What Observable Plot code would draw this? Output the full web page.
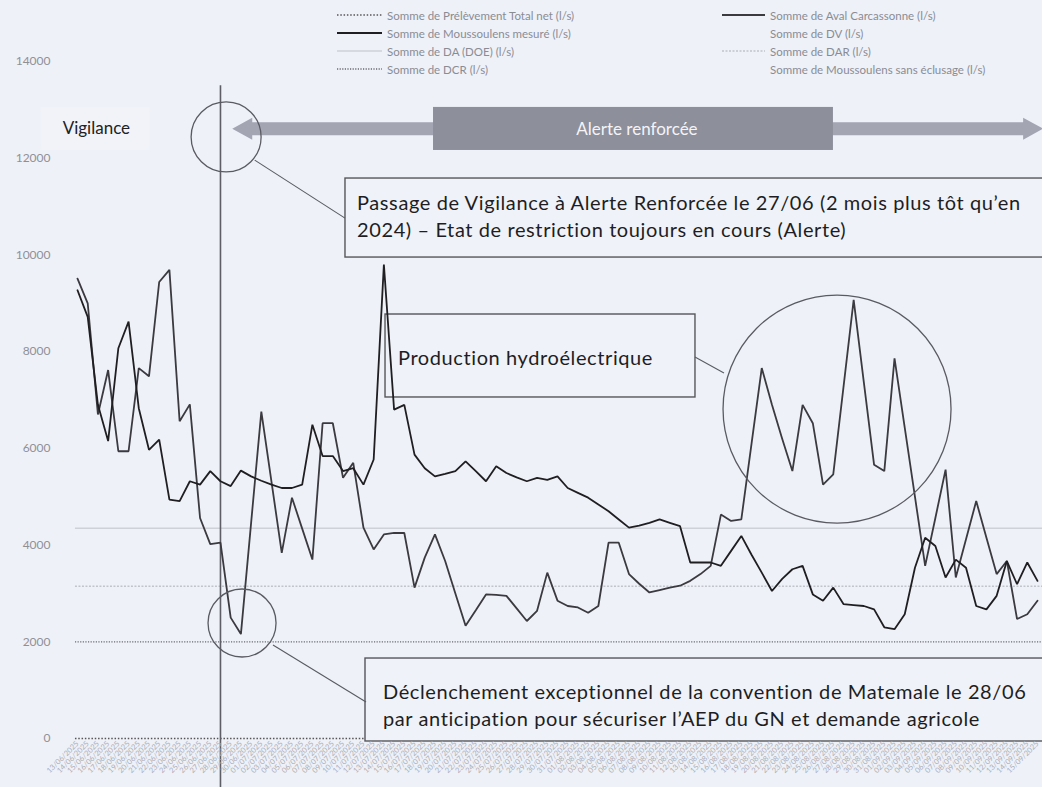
<!DOCTYPE html>
<html><head><meta charset="utf-8">
<script src="https://cdn.jsdelivr.net/npm/d3@7"></script>
<script src="https://cdn.jsdelivr.net/npm/@observablehq/plot@0.6"></script>
<style>
html,body{margin:0;padding:0;background:#eef1f8;}
#wrap{position:relative;width:1042px;height:787px;overflow:hidden;background:#eef1f8;}
#legend{position:absolute;left:0;top:0;width:1042px;height:80px;font-family:Lato,"Open Sans",sans-serif;font-size:11.5px;color:#8a8c94;}
.li{position:absolute;display:flex;align-items:center;white-space:nowrap;height:14px;}
.li svg{margin-right:5px;}
#chart{position:absolute;left:0;top:0;}
</style></head><body><div id="wrap"><div id="chart"></div><div id="legend"></div></div>
<script>
// ---- data ----
const dates = [
"13/06/2025","14/06/2025","15/06/2025","16/06/2025","17/06/2025","18/06/2025","19/06/2025","20/06/2025","21/06/2025","22/06/2025",
"23/06/2025","24/06/2025","25/06/2025","26/06/2025","27/06/2025","28/06/2025","29/06/2025","30/06/2025",
"01/07/2025","02/07/2025","03/07/2025","04/07/2025","05/07/2025","06/07/2025","07/07/2025","08/07/2025","09/07/2025","10/07/2025",
"11/07/2025","12/07/2025","13/07/2025","14/07/2025","15/07/2025","16/07/2025","17/07/2025","18/07/2025","19/07/2025","20/07/2025",
"21/07/2025","22/07/2025","23/07/2025","24/07/2025","25/07/2025","26/07/2025","27/07/2025","28/07/2025","29/07/2025","30/07/2025","31/07/2025",
"01/08/2025","02/08/2025","03/08/2025","04/08/2025","05/08/2025","06/08/2025","07/08/2025","08/08/2025","09/08/2025","10/08/2025",
"11/08/2025","12/08/2025","13/08/2025","14/08/2025","15/08/2025","16/08/2025","17/08/2025","18/08/2025","19/08/2025","20/08/2025",
"21/08/2025","22/08/2025","23/08/2025","24/08/2025","25/08/2025","26/08/2025","27/08/2025","28/08/2025","29/08/2025","30/08/2025","31/08/2025",
"01/09/2025","02/09/2025","03/09/2025","04/09/2025","05/09/2025","06/09/2025","07/09/2025","08/09/2025","09/09/2025","10/09/2025",
"11/09/2025","12/09/2025","13/09/2025","14/09/2025","15/09/2025"];

const moussoulensMesure = [
9270,8720,6900,6150,8070,8620,6830,5970,6180,4940,
4910,5320,5250,5530,5320,5220,5540,5420,5330,5250,
5180,5180,5250,6490,5840,5840,5530,5590,5250,5770,
9800,6800,6900,5870,5590,5420,5470,5530,5730,5530,
5320,5630,5490,5400,5320,5390,5350,5420,5180,5080,
4980,4840,4700,4530,4360,4400,4460,4530,4460,4390,
3640,3640,3640,3570,3880,4190,3800,3430,3050,3300,
3500,3570,2980,2850,3120,2780,2760,2740,2670,2300,
2260,2570,3530,4150,3980,3330,3700,3530,2740,2670,
2950,3670,3190,3640,3260];

const avalCarcassonne = [
9510,9000,6700,7620,5940,5940,7660,7490,9440,9690,
6560,6910,4560,4020,4050,2500,2160,4460,6760,5300,
3840,4980,4340,3700,6520,6520,5390,5700,4360,3910,
4220,4250,4250,3120,3740,4220,3670,3000,2330,2650,
2980,2970,2950,2690,2430,2640,3430,2850,2740,2710,
2600,2740,4050,4050,3400,3200,3020,3070,3120,3160,
3260,3400,3570,4630,4500,4530,6100,7660,6900,6200,
5530,6900,6520,5250,5460,7260,9070,7360,5660,5530,
7860,6430,5000,3570,4560,5560,3330,4120,4910,4150,
3400,3670,2470,2570,2850];

const thresholdNames = ["Somme de DA (DOE) (l/s)","Somme de DAR (l/s)","Somme de DCR (l/s)","Somme de Prélèvement Total net (l/s)"];
const thresholdValues = [4350, 3150, 2000, 0];
const yTicks = [0,2000,4000,6000,8000,10000,12000,14000];
const alertDate = "27/06/2025";

const legendLeft = ["Somme de Prélèvement Total net (l/s)","Somme de Moussoulens mesuré (l/s)","Somme de DA (DOE) (l/s)","Somme de DCR (l/s)"];
const legendRight = ["Somme de Aval Carcassonne (l/s)","Somme de DV (l/s)","Somme de DAR (l/s)","Somme de Moussoulens sans éclusage (l/s)"];

// ---- styles ----
const sty = {
  "Somme de Prélèvement Total net (l/s)": {stroke:"#555", width:1.5, dash:"1.5,1.8"},
  "Somme de Moussoulens mesuré (l/s)": {stroke:"#1f1f22", width:1.9, dash:null},
  "Somme de DA (DOE) (l/s)": {stroke:"#cfd1d8", width:1.5, dash:null},
  "Somme de DCR (l/s)": {stroke:"#6a6a70", width:1.3, dash:"1.2,1.4"},
  "Somme de Aval Carcassonne (l/s)": {stroke:"#3a3a40", width:1.9, dash:null},
  "Somme de DV (l/s)": {stroke:"none", width:1, dash:null},
  "Somme de DAR (l/s)": {stroke:"#c2c4cc", width:1.5, dash:"2,1.5"},
  "Somme de Moussoulens sans éclusage (l/s)": {stroke:"none", width:1, dash:null}
};

// annotation anchors, in data units (x = day index, y = l/s)
const notes = {
  vigilanceBox:{x1:-3.6,x2:7.1,y1:13050,y2:12160},
  vigilance:{x:1.9,y:12620,text:"Vigilance"},
  arrow:{x1:15.2,x2:94.6,y:12600},
  alerte:{x1:34.86,x2:74.02,y1:13050,y2:12160,text:"Alerte renforcée"},
  circle1:{x:14.6,y:12430,r:35},
  link1:{x1:17.4,y1:11950,x2:26.24,y2:10750},
  box1:{x1:26.24,x2:96,y1:11580,y2:9946,tx:27.42,lines:[
    {y:11084,t:"Passage de Vigilance à Alerte Renforcée le 27/06 (2 mois plus tôt qu’en"},
    {y:10526,t:"2024) – Etat de restriction toujours en cours (Alerte)"}]},
  box2:{x1:30.16,x2:60.51,y1:8768,y2:7052,tx:31.43,lines:[{y:7879,t:"Production hydroélectrique"}]},
  link2:{x1:60.51,y1:7879,x2:63.35,y2:7548},
  circle2:{x:74.42,y:6803,r:114},
  circle3:{x:16.16,y:2378,r:34},
  link3:{x1:19.19,y1:1923,x2:28.3,y2:744},
  box3:{x1:28.2,x2:96,y1:1654,y2:-62,tx:29.96,lines:[
    {y:972,t:"Déclenchement exceptionnel de la convention de Matemale le 28/06"},
    {y:414,t:"par anticipation pour sécuriser l’AEP du GN et demande agricole"}]}
};

const FONT = "Lato, 'Open Sans', sans-serif";

function boxesMark(index, scales) {
  const x = scales.x, y = scales.y;
  const g = d3.create("svg:g");
  const vb = notes.vigilanceBox;
  g.append("rect").attr("x", x(vb.x1)).attr("y", y(vb.y1)).attr("width", x(vb.x2)-x(vb.x1)).attr("height", y(vb.y2)-y(vb.y1))
    .attr("fill", "#f1f3f9");
  g.append("text").attr("x", x(notes.vigilance.x)).attr("y", y(notes.vigilance.y)).attr("text-anchor","middle")
    .attr("dominant-baseline","central").attr("font-family",FONT).attr("font-size",17).attr("fill","#222").text(notes.vigilance.text);
  // double arrow
  const a = notes.arrow, ax1 = x(a.x1), ax2 = x(a.x2), ay = y(a.y), hl = 20, hh = 11, sh = 6.5;
  const pts = [[ax1,ay],[ax1+hl,ay-hh],[ax1+hl,ay-sh],[ax2-hl,ay-sh],[ax2-hl,ay-hh],[ax2,ay],[ax2-hl,ay+hh],[ax2-hl,ay+sh],[ax1+hl,ay+sh],[ax1+hl,ay+hh]];
  g.append("polygon").attr("points", pts.map(p=>p.join(",")).join(" ")).attr("fill","#a3a5b2");
  const al = notes.alerte;
  g.append("rect").attr("x", x(al.x1)).attr("y", y(al.y1)).attr("width", x(al.x2)-x(al.x1)).attr("height", y(al.y2)-y(al.y1))
    .attr("fill","#8d8f9b");
  g.append("text").attr("x", (x(al.x1)+x(al.x2))/2 + 4).attr("y", (y(al.y1)+y(al.y2))/2).attr("text-anchor","middle")
    .attr("dominant-baseline","central").attr("font-family",FONT).attr("font-size",17).attr("fill","#f4f4f8").text(al.text);
  for (const b of [notes.box1, notes.box2, notes.box3]) {
    g.append("rect").attr("x", x(b.x1)).attr("y", y(b.y1)).attr("width", x(b.x2)-x(b.x1)).attr("height", y(b.y2)-y(b.y1))
      .attr("fill","#eff2f9").attr("stroke","#55565c").attr("stroke-width",1.4);
    for (const l of b.lines) {
      g.append("text").attr("x", x(b.tx)).attr("y", y(l.y)).attr("dominant-baseline","central").attr("text-anchor","start")
        .attr("font-family",FONT).attr("font-size",20).attr("letter-spacing","0.6px").attr("fill","#1e1e22").text(l.t);
    }
  }
  return g.node();
}
function circlesMark(index, scales) {
  const x = scales.x, y = scales.y;
  const g = d3.create("svg:g").attr("fill","none").attr("stroke","#5a5b62");
  for (const c of [notes.circle1, notes.circle2, notes.circle3]) {
    g.append("circle").attr("cx", x(c.x)).attr("cy", y(c.y)).attr("r", c.r).attr("stroke-width",1.3);
  }
  for (const l of [notes.link1, notes.link2, notes.link3]) {
    g.append("line").attr("x1", x(l.x1)).attr("y1", y(l.y1)).attr("x2", x(l.x2)).attr("y2", y(l.y2)).attr("stroke-width",1.1);
  }
  return g.node();
}

const lastIdx = dates.length - 1;
const alertIdx = dates.indexOf(alertDate);
const thresholds = thresholdNames.map((n,i)=>({name:n, value:thresholdValues[i]}));

const marks = [
  ...thresholds.map(t => Plot.ruleY([t], {y:"value", x1: () => -0.2, x2: () => lastIdx + 0.6,
      stroke: sty[t.name].stroke, strokeWidth: sty[t.name].width, strokeDasharray: sty[t.name].dash})),
  boxesMark,
  Plot.ruleX([alertIdx], {x: d => d, y1: () => 13500, y2: () => -1100, stroke:"#5d5e66", strokeWidth:1.6}),
  Plot.lineY(avalCarcassonne, {stroke: sty["Somme de Aval Carcassonne (l/s)"].stroke, strokeWidth: 1.8, strokeLinejoin:"miter"}),
  Plot.lineY(moussoulensMesure, {stroke: sty["Somme de Moussoulens mesuré (l/s)"].stroke, strokeWidth: 1.8, strokeLinejoin:"miter"}),
  circlesMark,
  Plot.axisY({ticks: yTicks, tickSize: 0, tickPadding: 27, fontSize: 12, fill:"#8e9097", tickFormat: d => String(d), label: null}),
  Plot.axisX({ticks: d3.range(dates.length), tickFormat: i => dates[i], tickRotate: -45, tickSize: 0, tickPadding: 4, fontSize: 7.5, fill:"#abadb5", label: null})
];

const chart = Plot.plot({
  width: 1042, height: 787,
  marginLeft: 77, marginRight: 5, marginTop: 61, marginBottom: 49,
  x: {type:"linear", domain:[0, lastIdx], label: null},
  y: {type:"linear", domain:[0, 14000], label: null},
  clip: false,
  style: {background:"transparent", fontFamily: FONT, overflow:"visible"},
  marks
});
document.getElementById("chart").appendChild(chart);

// legend
const leg = document.getElementById("legend");
const rowsY = [15, 33, 51, 69];
function addLegend(list, swX, swW) {
  list.forEach((name, i) => {
    const s = sty[name];
    const d = document.createElement("div");
    d.className = "li";
    d.style.left = swX + "px";
    d.style.top = (rowsY[i] - 7) + "px";
    const svg = d3.create("svg").attr("width", swW).attr("height", 14);
    svg.append("line").attr("x1",0).attr("x2",swW).attr("y1",7).attr("y2",7)
      .attr("stroke", s.stroke).attr("stroke-width", s.width).attr("stroke-dasharray", s.dash);
    d.appendChild(svg.node());
    const t = document.createElement("span"); t.textContent = name; d.appendChild(t);
    leg.appendChild(d);
  });
}
addLegend(legendLeft, 337, 45);
addLegend(legendRight, 722, 43);
</script></body></html>
